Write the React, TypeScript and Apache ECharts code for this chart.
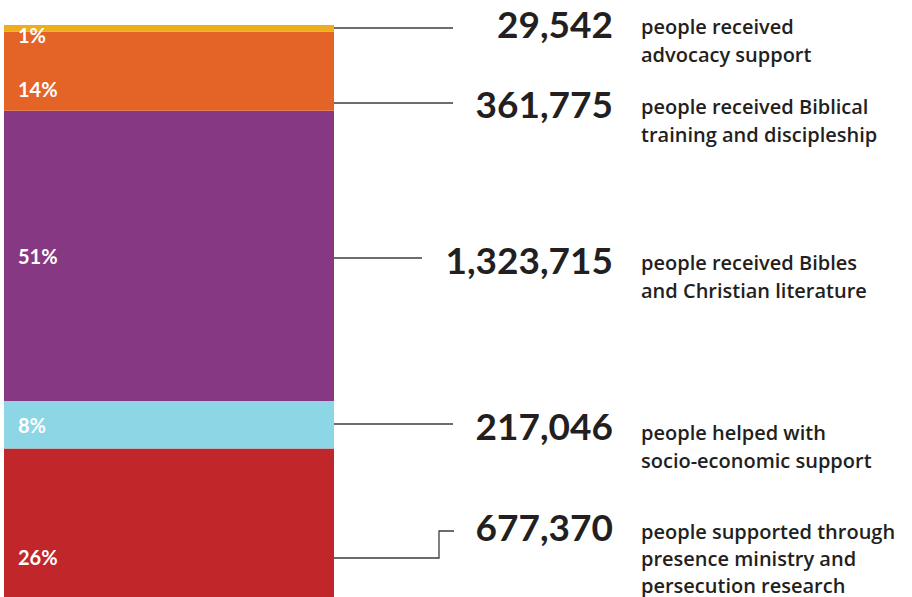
import React, { useEffect, useRef } from "react";
import * as echarts from "echarts";

// ---- data ----
const categories = [
  "Advocacy",
  "Biblical training",
  "Bibles and literature",
  "Socio-economic",
  "Presence ministry",
];
const values = [29542, 361775, 1323715, 217046, 677370];
const descriptions = [
  "people received\nadvocacy support",
  "people received Biblical\ntraining and discipleship",
  "people received Bibles\nand Christian literature",
  "people helped with\nsocio-economic support",
  "people supported through\npresence ministry and\npersecution research",
];
const colors = ["#ECAE1E", "#E46428", "#873882", "#8CD6E5", "#C0262A"];

// ---- annotation layout (positions only) ----
const pctLabelOffsetY = [7, 18, 0, 0, 34];
const numberY = [23, 103, 259, 425, 526];
const descFirstLineY = [26, 106, 262, 432, 531];
const descLineHeight = [28, 28, 28, 28, 27];
const leaderLines: number[][][] = [
  [[320, 28], [453, 28]],
  [[320, 103], [453, 103]],
  [[320, 258], [422, 258]],
  [[320, 424], [453, 424]],
  [[320, 558], [439, 558], [439, 531], [454, 531]],
];

const NUM_FONT = "Lato, 'Noto Sans', sans-serif";
const DESC_FONT = "'Open Sans', 'Noto Sans', sans-serif";

export default function App() {
  const ref = useRef<HTMLDivElement>(null);
  useEffect(() => {
    if (!ref.current) return;
    const chart = echarts.init(ref.current, undefined, { renderer: "svg" });
    const total = values.reduce((a, b) => a + b, 0);

    const order = [4, 3, 2, 1, 0]; // bottom to top
    const series = order.map((i) => ({
      type: "bar",
      name: categories[i],
      stack: "all",
      barWidth: 330,
      data: [values[i]],
      itemStyle: { color: colors[i] },
      label: {
        show: true,
        position: [14, "50%"],
        align: "left",
        verticalAlign: "middle",
        offset: [0, pctLabelOffsetY[i]],
        color: "#ffffff",
        fontFamily: NUM_FONT,
        fontWeight: "bold",
        fontSize: 20,
        formatter: () => `${Math.round((values[i] / total) * 100)}%`,
      },
    }));

    const graphics: any[] = [];
    values.forEach((v, i) => {
      graphics.push({
        type: "polyline",
        shape: { points: leaderLines[i] },
        style: { stroke: "#3c3c3c", lineWidth: 1.3, fill: null },
        silent: true,
      });
      graphics.push({
        type: "text",
        x: 613,
        y: numberY[i],
        style: {
          text: v.toLocaleString("en-US"),
          align: "right",
          verticalAlign: "middle",
          fontFamily: NUM_FONT,
          fontWeight: "bold",
          fontSize: 37,
          fill: "#231F20",
        },
      });
      graphics.push({
        type: "text",
        x: 641,
        y: descFirstLineY[i] - descLineHeight[i] / 2,
        style: {
          text: descriptions[i],
          align: "left",
          verticalAlign: "top",
          fontFamily: DESC_FONT,
          fontWeight: 600,
          fontSize: 20,
          lineHeight: descLineHeight[i],
          fill: "#231F20",
        },
      });
    });

    chart.setOption({
      animation: false,
      grid: { left: 4, width: 330, top: 25, bottom: 0 },
      xAxis: {
        type: "category",
        data: ["Total"],
        show: false,
      },
      yAxis: {
        type: "value",
        min: 0,
        max: total,
        show: false,
      },
      series,
      graphic: graphics,
    });
    return () => chart.dispose();
  }, []);
  return (
    <div
      ref={ref}
      style={{ position: "fixed", left: 0, top: 0, width: 912, height: 597, background: "#fff" }}
    />
  );
}
